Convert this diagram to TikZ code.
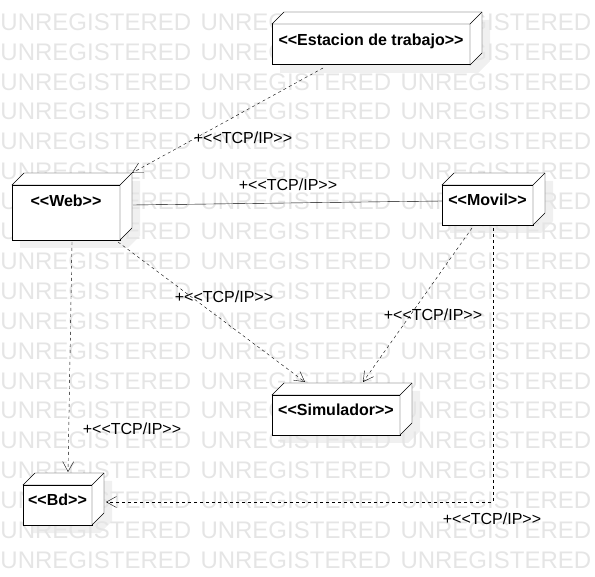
\documentclass[tikz,border=0pt]{standalone}
\usepackage{fontspec}
\setmainfont{Liberation Sans}[Ligatures=TeXOff]
\usetikzlibrary{arrows.meta}

\pgfdeclarelayer{background}
\pgfsetlayers{background,main}

\tikzset{every picture/.style={line width=1pt}}
\tikzset{
  marca/.style={anchor=west, inner sep=0pt, text=black!10, font=\fontsize{24}{24}\selectfont},
  nodo/.style={draw, fill=white, anchor=north west, inner sep=0pt, outer sep=0pt,
    font=\bfseries\fontsize{16}{19}\selectfont, text height=11.5pt, text depth=10pt},
  cara/.style={draw, fill=white, line join=miter},
  sombra/.style={fill=black!6},
  dep/.style={dash pattern=on 3pt off 3pt, -{Straight Barb[length=10pt,width=11pt]}},
  etq/.style={inner sep=0.75pt, font=\fontsize{16}{19}\selectfont},
}

% top and right faces of a 3D node, with its shadow
\newcommand{\caras}[1]{%
  \begin{pgfonlayer}{background}
    \fill[sombra] ([shift={(8,8)}]#1.north west) -- ([shift={(20,-4)}]#1.north west) -- ([shift={(20,-4)}]#1.north east)
      -- ([shift={(20,-4)}]#1.south east) -- ([shift={(8,8)}]#1.south east) -- ([shift={(8,8)}]#1.south west) -- cycle;
  \end{pgfonlayer}
  \draw[cara] (#1.north west) -- ([shift={(12,-12)}]#1.north west) -- ([shift={(12,-12)}]#1.north east)
    -- ([shift={(12,-12)}]#1.south east) -- (#1.south east) -- (#1.north east) -- cycle;
  \draw (#1.north east) -- ([shift={(12,-12)}]#1.north east);
}

\begin{document}
\begin{tikzpicture}[x=1pt,y=1pt,yscale=-1,xscale=1]
\useasboundingbox (0,0) rectangle (595,577);

% Watermark
\foreach \f in {0,...,18}
  \foreach \c in {0,1,2}
    \node[marca] (m\f-\c) at (200*\c,22+29.9*\f) {UNREGISTERED};

%Shape: Node [est]
\node[nodo, minimum width=198, minimum height=41] (est) at (272,24) {<<Estacion de trabajo>>};
\caras{est}
%Shape: Node [web]
\node[nodo, minimum width=108, minimum height=55, text depth=23pt] (web) at (12,185) {<<Web>>};
\caras{web}
%Shape: Node [movil]
\node[nodo, minimum width=91, minimum height=40] (movil) at (442,185) {<<Movil>>};
\caras{movil}
%Shape: Node [sim]
\node[nodo, minimum width=128, minimum height=40] (sim) at (272,395) {<<Simulador>>};
\caras{sim}
%Shape: Node [bd]
\node[nodo, minimum width=69, minimum height=40] (bd) at (23,485) {<<Bd>>};
\caras{bd}

%Connector: est -> web
\draw[dep] ([shift={(51,3)}]est.south west) -- ([shift={(12,-12)}]web.north east);
%Connector: web -- movil
\draw ([shift={(13,-7.5)}]web.east) -- ([shift={(0,-4)}]movil.west);
%Connector: web -> sim
\draw[dep] ([shift={(-2,2)}]web.south east) -- ([shift={(33,-13)}]sim.north west);
%Connector: movil -> sim
\draw[dep] ([shift={(30,3)}]movil.south west) -- ([shift={(91,-13)}]sim.north west);
%Connector: web -> bd
\draw[dep] ([shift={(60,2)}]web.south west) -- ([shift={(45,-13)}]bd.north west);
%Connector: movil -> bd
\draw[dep] ([shift={(51,3)}]movil.south west) |- ([shift={(14,-3)}]bd.east);

% Text Node
\node[etq] (l1) at (243,138) {+<<TCP/IP>>};
% Text Node
\node[etq] (l2) at (288,185) {+<<TCP/IP>>};
% Text Node
\node[etq] (l3) at (224,297) {+<<TCP/IP>>};
% Text Node
\node[etq] (l4) at (433,315) {+<<TCP/IP>>};
% Text Node
\node[etq] (l5) at (132,429) {+<<TCP/IP>>};
% Text Node
\node[etq] (l6) at (492,519) {+<<TCP/IP>>};
\end{tikzpicture}
\end{document}
